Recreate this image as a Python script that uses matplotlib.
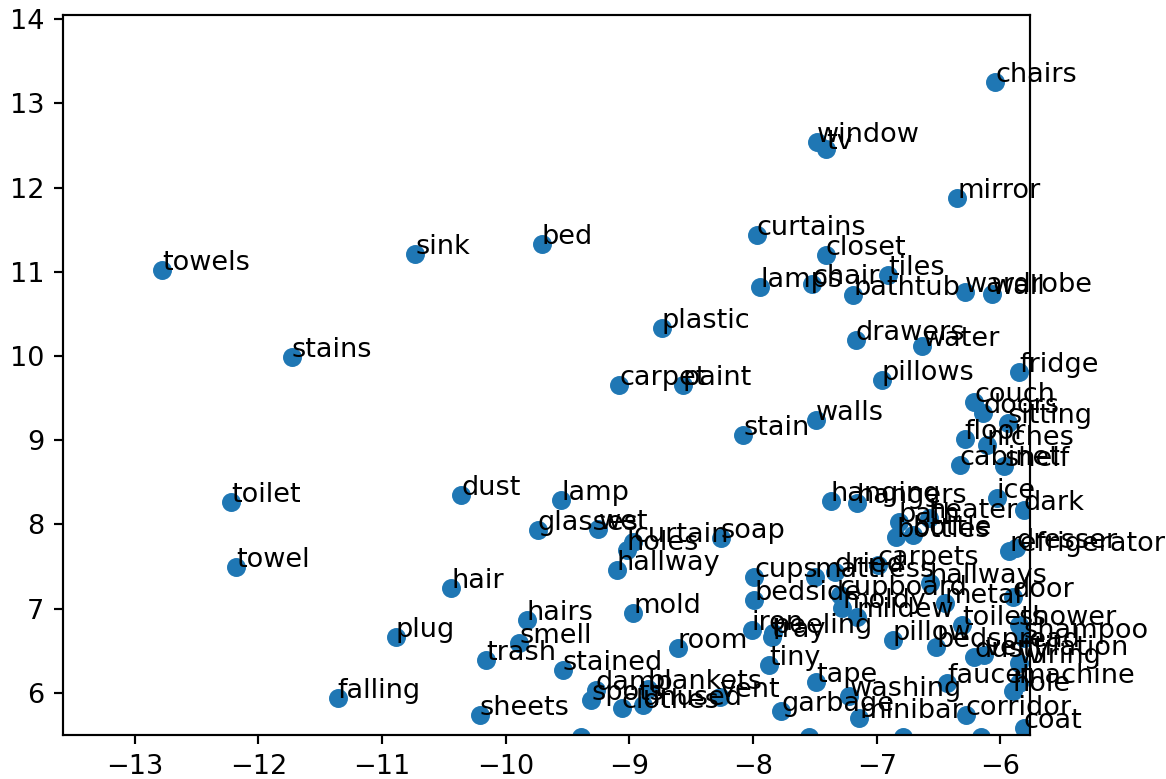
import numpy as np
import matplotlib
matplotlib.use("Agg")
import matplotlib.pyplot as plt

# 2-D word embedding coordinates (projected) for room / housekeeping vocabulary
words = [
    "towels", "toilet", "towel", "stains", "sink", "bed", "falling", "plug",
    "hair", "dust", "lamp", "glasses", "wet", "holes", "curtain", "hallway",
    "mold", "hairs", "smell", "trash", "stained", "sheets", "room", "carpet",
    "paint", "plastic", "curtains", "stain", "walls", "pillows", "fridge",
    "couch", "doors", "sitting", "floor", "niches", "cabinet", "shelf", "ice",
    "dark", "hanging", "hangers", "soap", "bath", "heater", "bottles", "bottle",
    "refrigerator", "dresser", "cups", "bedside", "dried", "carpets",
    "mattress", "hallways", "cupboard", "metal", "door", "moldy", "mildew",
    "iron", "peeling", "tray", "tiny", "tape", "garbage", "washing", "minibar",
    "corridor", "coat", "hole", "machine", "faucet", "dusty", "ventilation",
    "wiring", "shampoo", "shower", "toilets", "pillow", "bedspread",
    "window", "tv", "chairs", "mirror", "closet", "lamps", "chair", "tiles",
    "bathtub", "wardrobe", "wall", "drawers", "water", "damp", "blankets",
    "spots", "clothes", "unused", "vent",
    "bin", "fan", "rug", "sofa",
]
x = [
    -12.78, -12.22, -12.18, -11.73, -10.73, -9.71, -11.36, -10.89,
    -10.44, -10.36, -9.55, -9.74, -9.25, -9.02, -8.97, -9.10,
    -8.97, -9.83, -9.89, -10.16, -9.54, -10.21, -8.61, -9.08,
    -8.57, -8.74, -7.97, -8.08, -7.49, -6.96, -5.85,
    -6.21, -6.14, -5.94, -6.29, -6.11, -6.33, -5.97, -6.03,
    -5.81, -7.37, -7.16, -8.26, -6.82, -6.58, -6.84, -6.71,
    -5.93, -5.87, -7.99, -7.99, -7.34, -6.99,
    -7.50, -6.57, -7.30, -6.45, -5.90, -7.28, -7.16,
    -8.01, -7.84, -7.85, -7.87, -7.49, -7.77, -7.22, -7.14,
    -6.28, -5.81, -5.90, -5.85, -6.43, -6.21, -6.13,
    -5.85, -5.81, -5.85, -6.31, -6.87, -6.52,
    -7.48, -7.41, -6.04, -6.35, -7.41, -7.94, -7.52, -6.91,
    -7.19, -6.29, -6.07, -7.17, -6.63, -9.27, -8.85,
    -9.31, -9.06, -8.89, -8.27,
    -9.39, -7.55, -6.79, -6.16,
]
y = [
    11.02, 8.27, 7.50, 9.99, 11.21, 11.33, 5.94, 6.66,
    7.25, 8.35, 8.29, 7.93, 7.95, 7.70, 7.79, 7.46,
    6.95, 6.87, 6.59, 6.39, 6.27, 5.74, 6.53, 9.66,
    9.66, 10.33, 11.44, 9.06, 9.24, 9.71, 9.81,
    9.45, 9.32, 9.20, 9.01, 8.94, 8.71, 8.69, 8.31,
    8.17, 8.28, 8.26, 7.84, 8.03, 8.08, 7.85, 7.88,
    7.68, 7.72, 7.38, 7.10, 7.44, 7.52,
    7.38, 7.31, 7.16, 7.07, 7.14, 7.01, 6.90,
    6.75, 6.71, 6.66, 6.33, 6.13, 5.78, 5.96, 5.70,
    5.74, 5.58, 6.02, 6.12, 6.12, 6.43, 6.45,
    6.36, 6.65, 6.81, 6.81, 6.63, 6.55,
    12.54, 12.46, 13.25, 11.88, 11.20, 10.82, 10.85, 10.96,
    10.72, 10.76, 10.74, 10.19, 10.12, 6.04, 6.05,
    5.92, 5.82, 5.86, 5.95,
    5.48, 5.48, 5.48, 5.48,
]

fig = plt.figure(figsize=(1166 / 195, 779 / 195))
ax = fig.add_axes([0.054, 0.0565, 0.8294, 0.9242])

ax.scatter(x, y)
for w, xi, yi in zip(words, x, y):
    ax.annotate(w, (xi, yi))

ax.set_xlim(-13.58, -5.76)
ax.set_ylim(5.50, 14.05)

fig.savefig("out.png", dpi=195)
